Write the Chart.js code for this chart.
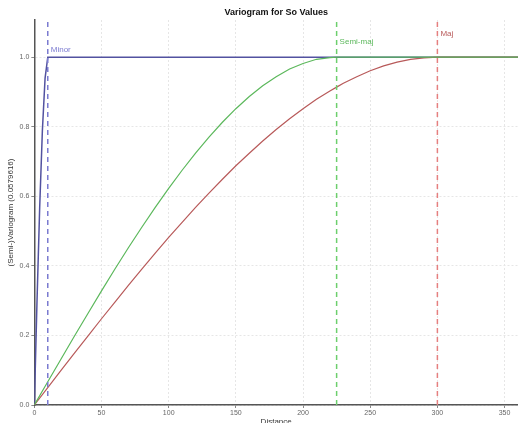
<!DOCTYPE html>
<html>
<head>
<meta charset="utf-8">
<script src="https://cdn.jsdelivr.net/npm/chart.js@4.4.0/dist/chart.umd.min.js"></script>
<style>
  html, body { margin: 0; padding: 0; background: #fff; }
  #wrap { width: 518px; height: 423px; }
</style>
</head>
<body>
<div id="wrap"><canvas id="variograma"></canvas></div>
<script>
// valores
const minorDist = [0, 2, 4, 6, 8, 10, 360];
const minorVals = [0, 0.30, 0.57, 0.79, 0.94, 1.0, 1.0];

const dist = [0, 10, 20, 30, 40, 50, 60, 70, 80, 90, 100, 110, 120, 130, 140, 150, 160, 170, 180,
              190, 200, 210, 220, 225, 230, 240, 250, 260, 270, 280, 290, 300, 360];
const semiVals = [0, 0.067, 0.133, 0.199, 0.264, 0.328, 0.391, 0.452, 0.511, 0.568, 0.623, 0.675,
                  0.724, 0.770, 0.813, 0.852, 0.887, 0.918, 0.944, 0.966, 0.982, 0.994, 0.999, 1.0,
                  1.0, 1.0, 1.0, 1.0, 1.0, 1.0, 1.0, 1.0, 1.0];
const majVals = [0, 0.050, 0.100, 0.150, 0.199, 0.248, 0.296, 0.344, 0.391, 0.437, 0.482, 0.525,
                 0.568, 0.609, 0.649, 0.688, 0.724, 0.759, 0.792, 0.823, 0.852, 0.879, 0.903, 0.914,
                 0.925, 0.944, 0.961, 0.975, 0.986, 0.994, 0.998, 1.0, 1.0];

const xTicks = [0, 50, 100, 150, 200, 250, 300, 350];
const yTicks = [0, 0.2, 0.4, 0.6, 0.8, 1.0];

const rangos = [10, 225, 300];
const rangoNombres = ['Minor', 'Semi-maj', 'Maj'];
const rangoLabelY = [1.022, 1.045, 1.068];

const colMinor = '#5252a0', colSemi = '#5cb85c', colMaj = '#b85a5a';
const colMinorD = '#7b7bd0', colSemiD = '#6ccf6c', colMajD = '#e57f7f';

function pts(xs, ys) { return xs.map((x, i) => ({ x: x, y: ys[i] })); }

const etiquetas = {
  id: 'etiquetas',
  afterDraw(chart) {
    const c = chart.ctx, a = chart.chartArea, sx = chart.scales.x, sy = chart.scales.y;
    c.save();
    c.fillStyle = '#111';
    c.font = 'bold 9px "Liberation Sans", Arial, sans-serif';
    c.textAlign = 'center';
    c.textBaseline = 'middle';
    c.fillText('Variogram for So Values', (a.left + a.right) / 2, 13);
    c.font = '8px "Liberation Sans", Arial, sans-serif';
    c.textAlign = 'left';
    const cols = [colMinorD, colSemi, colMaj];
    rangos.forEach((r, i) => {
      c.fillStyle = cols[i];
      c.fillText(rangoNombres[i], sx.getPixelForValue(r) + 3, sy.getPixelForValue(rangoLabelY[i]));
    });
    c.restore();
  }
};

const ctx = document.getElementById('variograma').getContext('2d');
const grafico = new Chart(ctx, {
  type: 'scatter',
  data: {
    datasets: [
      { label: 'Minor range', data: pts([rangos[0], rangos[0]], [0, 1.12]), showLine: true,
        borderColor: colMinorD, borderWidth: 1.5, borderDash: [5, 4], pointRadius: 0 },
      { label: 'Semi range', data: pts([rangos[1], rangos[1]], [0, 1.12]), showLine: true,
        borderColor: colSemiD, borderWidth: 1.5, borderDash: [5, 4], pointRadius: 0 },
      { label: 'Maj range', data: pts([rangos[2], rangos[2]], [0, 1.12]), showLine: true,
        borderColor: colMajD, borderWidth: 1.5, borderDash: [5, 4], pointRadius: 0 },
      { label: 'Semi-maj', data: pts(dist, semiVals), showLine: true,
        borderColor: colSemi, borderWidth: 1.2, pointRadius: 0, tension: 0 },
      { label: 'Maj', data: pts(dist, majVals), showLine: true,
        borderColor: colMaj, borderWidth: 1.2, pointRadius: 0, tension: 0 },
      { label: 'Minor', data: pts(minorDist, minorVals), showLine: true,
        borderColor: colMinor, borderWidth: 1.5, pointRadius: 0, tension: 0 }
    ]
  },
  options: {
    responsive: true,
    maintainAspectRatio: false,
    animation: false,
    layout: { padding: { top: 20, right: 0, left: 4, bottom: -4 } },
    plugins: {
      legend: { display: false },
      tooltip: { enabled: false },
      title: { display: false }
    },
    scales: {
      x: {
        type: 'linear', min: 0, max: 360,
        afterBuildTicks: (s) => { s.ticks = xTicks.map(v => ({ value: v })); },
        ticks: { color: '#666', font: { size: 7, family: 'Liberation Sans' }, padding: 1 },
        grid: { color: '#e6e6e6', tickLength: 3, tickColor: '#888' },
        border: { color: '#555', width: 1.5, dash: [2, 2] },
        title: { display: true, text: 'Distance', color: '#333', font: { size: 8, family: 'Liberation Sans' }, padding: { top: -1, bottom: 0 } }
      },
      y: {
        min: 0, max: 1.107,
        afterBuildTicks: (s) => { s.ticks = yTicks.map(v => ({ value: v })); },
        ticks: { color: '#666', font: { size: 7, family: 'Liberation Sans' }, padding: 2,
          callback: (v) => v.toFixed(1) },
        grid: { color: '#e6e6e6', tickLength: 3, tickColor: '#888' },
        border: { color: '#555', width: 1.5, dash: [2, 2] },
        title: { display: true, text: '(Semi-)Variogram (0.0579616)', color: '#333', font: { size: 8, family: 'Liberation Sans' }, padding: 2 }
      }
    }
  },
  plugins: [etiquetas]
});
</script>
</body>
</html>
